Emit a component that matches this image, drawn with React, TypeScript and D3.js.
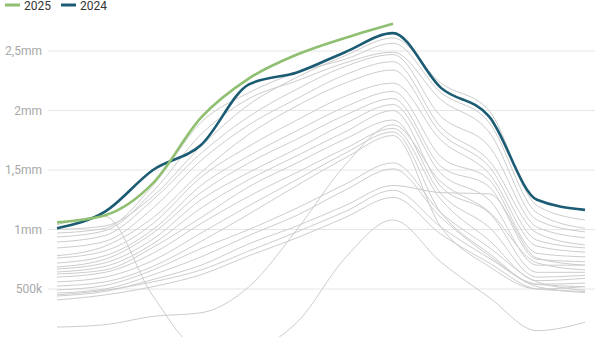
import React from "react";
import * as d3 from "d3";

const months = ["Jan", "Feb", "Mar", "Apr", "May", "Jun", "Jul", "Aug", "Sep", "Oct", "Nov", "Dec"];

// values in thousands
const y2025 = [1060, 1120, 1390, 1940, 2270, 2470, 2610, 2730];
const y2024 = [1010, 1150, 1500, 1710, 2220, 2320, 2490, 2650, 2190, 1950, 1250, 1165];

const g1 = [1000, 1030, 1280, 1700, 2050, 2280, 2460, 2610, 2230, 2000, 1200, 1080];
const g2 = [970, 1010, 1370, 1900, 2150, 2320, 2430, 2565, 2150, 1900, 1140, 1010];
const g3 = [937, 990, 1320, 1800, 2100, 2250, 2400, 2490, 2090, 1820, 1080, 980];
const g4 = [895, 950, 1250, 1640, 1950, 2180, 2370, 2470, 1950, 1700, 1020, 930];
const g5 = [845, 900, 1180, 1580, 1880, 2100, 2300, 2410, 1860, 1580, 970, 870];
const g6 = [780, 860, 1100, 1480, 1800, 2040, 2230, 2340, 1810, 1530, 910, 845];
const g7 = [760, 820, 1050, 1440, 1700, 1920, 2120, 2230, 1750, 1470, 860, 810];
const g8 = [718, 780, 1000, 1370, 1620, 1830, 2030, 2160, 1610, 1420, 800, 770];
const g9 = [685, 750, 970, 1310, 1560, 1760, 1960, 2100, 1530, 1360, 750, 730];
const g10 = [668, 720, 920, 1250, 1480, 1680, 1890, 2050, 1470, 1250, 700, 700];
const g11 = [643, 690, 880, 1180, 1420, 1620, 1820, 2000, 1360, 1140, 640, 640];
const g12 = [626, 660, 850, 1100, 1360, 1560, 1760, 1920, 1300, 1020, 600, 615];
const g13 = [600, 640, 800, 1050, 1280, 1480, 1680, 1850, 1250, 910, 570, 590];
const g14 = [560, 600, 740, 970, 1200, 1420, 1640, 1820, 1140, 800, 540, 550];
const g15 = [525, 560, 690, 900, 1130, 1370, 1600, 1790, 1020, 690, 500, 520];
const g16 = [492, 530, 660, 840, 1000, 1180, 1380, 1560, 1140, 850, 560, 490];
const g17 = [466, 500, 620, 770, 950, 1120, 1330, 1510, 1100, 780, 520, 470];
const g18 = [441, 480, 580, 700, 880, 1030, 1200, 1370, 1310, 1300, 760, 700];
const g19 = [450, 490, 560, 660, 820, 980, 1150, 1330, 1020, 760, 540, 520];
const g20 = [408, 450, 520, 620, 780, 930, 1100, 1270, 960, 720, 500, 480];
const gA = [180, 200, 270, 300, 520, 1000, 1540, 1880, 1400, 1150, 720, 660];
const gC = [1040, 1110, 440, 0, 0, 220, 760, 1080, 725, 430, 150, 220];

const grayYears = [g1, g2, g3, g4, g5, g6, g7, g8, g9, g10, g11, g12, g13, g14, g15, g16, g17, g18, g19, g20, gA, gC];

const yTicks = [500, 1000, 1500, 2000, 2500];
const yTickLabels = ["500k", "1mm", "1,5mm", "2mm", "2,5mm"];

const legendItems = [
  { label: "2025", color: "#8fbf70" },
  { label: "2024", color: "#1b5c74" },
];

const W = 600;
const H = 337;

export default function App() {
  const x = d3.scalePoint<string>().domain(months).range([57, 585]);
  const y = d3.scaleLinear().domain([0, 3000]).range([348.5, -8.5]);
  const line = d3
    .line<number>()
    .x((_, i) => x(months[i]) as number)
    .y((d) => y(d))
    .curve(d3.curveMonotoneX);

  return (
    <div style={{ position: "fixed", left: 0, top: 0, width: W, height: H, background: "#fff" }}>
      <svg width={W} height={H} style={{ display: "block", fontFamily: "Roboto, sans-serif" }}>
        {yTicks.map((t, i) => (
          <g key={t}>
            <line x1={48} x2={595} y1={y(t)} y2={y(t)} stroke="#e6e6e6" strokeWidth={1} />
            <text x={42} y={y(t)} dy="0.35em" textAnchor="end" fontSize={12} fill="#a8a8a8">
              {yTickLabels[i]}
            </text>
          </g>
        ))}
        {grayYears.map((s, i) => (
          <path key={i} d={line(s) || ""} fill="none" stroke="#cdcdcd" strokeWidth={1} />
        ))}
        <path d={line(y2024) || ""} fill="none" stroke="#1b5c74" strokeWidth={2.6} />
        <path d={line(y2025) || ""} fill="none" stroke="#8fbf70" strokeWidth={2.6} />
        {legendItems.map((it, i) => (
          <g key={it.label} transform={`translate(${i * 56}, 0)`}>
            <line x1={5} x2={20} y1={5} y2={5} stroke={it.color} strokeWidth={3} />
            <text x={24} y={9.5} fontSize={12} fill="#333">
              {it.label}
            </text>
          </g>
        ))}
      </svg>
    </div>
  );
}
